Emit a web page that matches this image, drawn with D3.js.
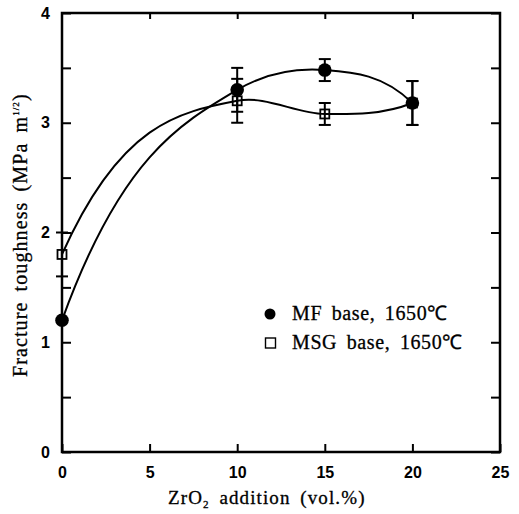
<!DOCTYPE html>
<html>
<head>
<meta charset="utf-8">
<script src="https://cdn.jsdelivr.net/npm/d3@7"></script>
<style>
  body { margin: 0; background: #fff; }
  svg { display: block; }
  .tick text { font-family: "Liberation Sans", Arial, sans-serif; font-weight: bold; font-size: 16px; fill: #000; }
  .tick line { stroke: #000; stroke-width: 2; }
  .domain { display: none; }
  .ttl { font-family: "Liberation Serif", "Times New Roman", serif; fill: #000; stroke: #000; stroke-width: 0.3px; }
</style>
</head>
<body>
<div id="chart"></div>
<script>
// ZrO2 addition (vol.%)
var xVals = [0, 10, 15, 20];
// MF base, 1650C
var mfVals = [1.2, 3.3, 3.48, 3.18];
var mfErr = [0, 0.2, 0.1, 0.2];
// MSG base, 1650C
var msgVals = [1.8, 3.2, 3.08, 3.18];
var msgErr = [0.2, 0.2, 0.1, 0.2];

var xTicks = [0, 5, 10, 15, 20, 25];
var xInnerTicks = [5, 10, 15, 20];
var yTicks = [0, 0.5, 1, 1.5, 2, 2.5, 3, 3.5, 4];

var W = 519, H = 514;
var plotL = 62, plotR = 500, plotT = 13, plotB = 452;

var svg = d3.select("#chart").append("svg").attr("width", W).attr("height", H);

var x = d3.scaleLinear().domain([0, 25]).range([plotL, plotR]);
var y = d3.scaleLinear().domain([0, 4]).range([plotB, plotT]);

// smooth curve through the points, hermite with 3 point slopes
function curveSmooth(context) {
  var xs, ys;
  return {
    areaStart: function() {},
    areaEnd: function() {},
    lineStart: function() { xs = []; ys = []; },
    point: function(px, py) { xs.push(+px); ys.push(+py); },
    lineEnd: function() {
      var n = xs.length, s = [], m = [];
      for (var i = 0; i < n - 1; i++) s[i] = (ys[i+1] - ys[i]) / (xs[i+1] - xs[i]);
      for (var i = 1; i < n - 1; i++) {
        var h0 = xs[i] - xs[i-1], h1 = xs[i+1] - xs[i];
        m[i] = (s[i-1] * h1 + s[i] * h0) / (h0 + h1);
      }
      m[0] = 3 * s[0] - 2 * m[1];
      m[n-1] = 3 * s[n-2] - 2 * m[n-2];
      context.moveTo(xs[0], ys[0]);
      for (var i = 0; i < n - 1; i++) {
        var h = xs[i+1] - xs[i];
        context.bezierCurveTo(xs[i] + h/3, ys[i] + m[i]*h/3, xs[i+1] - h/3, ys[i+1] - m[i+1]*h/3, xs[i+1], ys[i+1]);
      }
    }
  };
}

var line = d3.line()
  .x(function(d) { return x(d[0]); })
  .y(function(d) { return y(d[1]); })
  .curve(curveSmooth);

var mfData = xVals.map(function(v, i) { return [v, mfVals[i], mfErr[i]]; });
var msgData = xVals.map(function(v, i) { return [v, msgVals[i], msgErr[i]]; });

// axes, all ticks pointing inward
svg.append("g").attr("transform", "translate(" + plotL + ",0)")
  .call(d3.axisLeft(y).tickValues(yTicks).tickSize(-9).tickPadding(12)
    .tickFormat(function(d) { return d % 1 === 0 ? d : ""; }));
svg.append("g").attr("transform", "translate(" + plotR + ",0)")
  .call(d3.axisRight(y).tickValues(yTicks).tickSize(-9).tickFormat(""));
svg.append("g").attr("transform", "translate(0," + plotB + ")")
  .call(d3.axisBottom(x).tickValues(xTicks).tickSize(-8).tickPadding(15).tickFormat(d3.format("d")));
svg.append("g").attr("transform", "translate(0," + plotT + ")")
  .call(d3.axisTop(x).tickValues(xInnerTicks).tickSize(-6).tickFormat(""));

svg.append("rect")
  .attr("x", plotL).attr("y", plotT)
  .attr("width", plotR - plotL).attr("height", plotB - plotT)
  .attr("fill", "none").attr("stroke", "#000").attr("stroke-width", 2.5);

// curves
svg.append("path").datum(msgData).attr("d", line)
  .attr("fill", "none").attr("stroke", "#000").attr("stroke-width", 2);
svg.append("path").datum(mfData).attr("d", line)
  .attr("fill", "none").attr("stroke", "#000").attr("stroke-width", 2);

// error bars
function errorBars(data) {
  var g = svg.append("g").attr("stroke", "#000").attr("stroke-width", 2);
  data.filter(function(d) { return d[2] > 0; }).forEach(function(d) {
    var cx = x(d[0]), y0 = y(d[1] - d[2]), y1 = y(d[1] + d[2]);
    g.append("line").attr("x1", cx).attr("x2", cx).attr("y1", y0).attr("y2", y1);
    g.append("line").attr("x1", cx - 6).attr("x2", cx + 6).attr("y1", y0).attr("y2", y0);
    g.append("line").attr("x1", cx - 6).attr("x2", cx + 6).attr("y1", y1).attr("y2", y1);
  });
}
errorBars(msgData);
errorBars(mfData);

// markers
svg.append("g").selectAll("rect").data(msgData).enter().append("rect")
  .attr("x", function(d) { return x(d[0]) - 4.5; })
  .attr("y", function(d) { return y(d[1]) - 4.5; })
  .attr("width", 9).attr("height", 9)
  .attr("fill", "none").attr("stroke", "#000").attr("stroke-width", 1.8);
svg.append("g").selectAll("circle").data(mfData).enter().append("circle")
  .attr("cx", function(d) { return x(d[0]); })
  .attr("cy", function(d) { return y(d[1]); })
  .attr("r", 6.8).attr("fill", "#000");

// legend
svg.append("circle").attr("cx", 270).attr("cy", 314).attr("r", 5.5).attr("fill", "#000");
svg.append("rect").attr("x", 265.5).attr("y", 338).attr("width", 10).attr("height", 10)
  .attr("fill", "#fff").attr("stroke", "#000").attr("stroke-width", 1.4);
svg.append("text").attr("class", "ttl").attr("x", 292).attr("y", 320)
  .style("font-size", "20px").style("letter-spacing", "0.6px").style("word-spacing", "4px")
  .text("MF base, 1650℃");
svg.append("text").attr("class", "ttl").attr("x", 292).attr("y", 349)
  .style("font-size", "20px").style("letter-spacing", "0.6px").style("word-spacing", "4px")
  .text("MSG base, 1650℃");

// axis titles
var xt = svg.append("text").attr("class", "ttl").attr("x", 168).attr("y", 504)
  .style("font-size", "19px").style("letter-spacing", "1.1px").style("word-spacing", "4px");
xt.append("tspan").text("ZrO");
xt.append("tspan").attr("dy", 4).style("font-size", "11px").text("2");
xt.append("tspan").attr("dy", -4).text(" addition (vol.%)");

var yt = svg.append("text").attr("class", "ttl")
  .attr("transform", "translate(27,377) rotate(-90)")
  .style("font-size", "20px").style("letter-spacing", "1.1px").style("word-spacing", "4px");
yt.append("tspan").text("Fracture toughness (MPa m");
yt.append("tspan").attr("dy", -8).style("font-size", "9px").text("1/2");
yt.append("tspan").attr("dy", 8).text(")");
</script>
</body>
</html>
